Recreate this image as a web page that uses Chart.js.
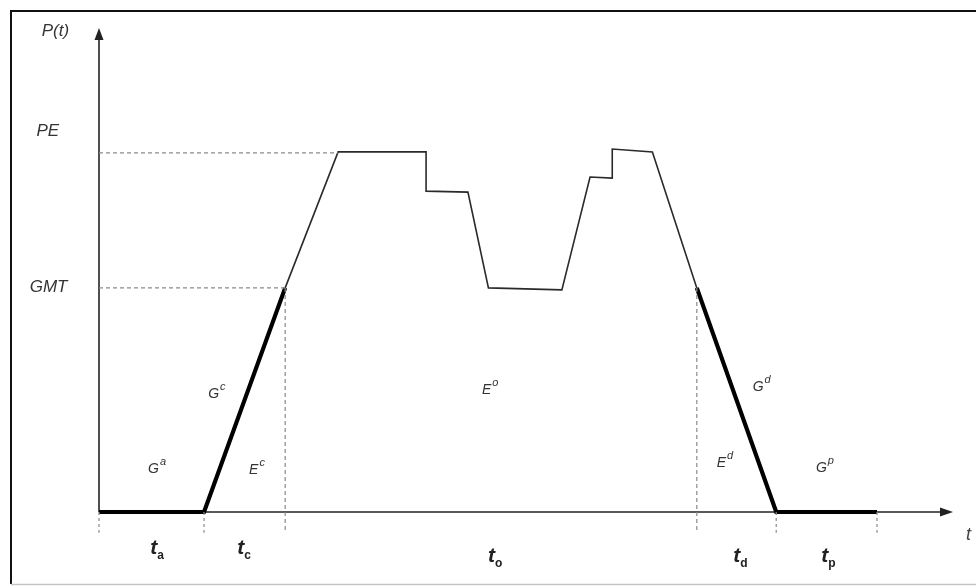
<!DOCTYPE html>
<html>
<head>
<meta charset="utf-8">
<script src="https://cdn.jsdelivr.net/npm/chart.js@4/dist/chart.umd.min.js"></script>
<style>
  html, body { margin: 0; padding: 0; background: #fff; }
  #wrap { width: 976px; height: 587px; position: relative; }
</style>
</head>
<body>
<div id="wrap"><canvas id="c" width="976" height="587"></canvas></div>
<script>
// ---- data (time units 0..100, power units 0..100) ----
const profileTime  = [21.8, 28.0, 38.3, 38.3, 43.2, 45.6, 54.2, 57.5, 60.1, 60.1, 64.8, 70.0];
const profilePower = [46.3, 74.4, 74.4, 66.3, 66.1, 46.3, 45.9, 69.2, 69.0, 75.0, 74.4, 46.3];
const startTime  = [0, 12.3, 21.8];
const startPower = [0, 0, 46.3];
const endTime  = [70.0, 79.3, 91.1];
const endPower = [46.3, 0, 0];
const PE = 74.2;
const GMT = 46.3;
const PE_TIME = 28.0;
const GMT_TIME_UP = 21.8;
const GMT_TIME_DOWN = 70.0;
const phaseBounds = [0, 12.3, 79.3, 91.1];
const tickDepth = -4.3;
const phaseNames = ['a', 'c', 'o', 'd', 'p'];
const phaseLabelTime = [6.8, 17.0, 46.4, 75.1, 85.4];
const phaseLabelPower = [-7.9, -7.9, -9.6, -9.6, -9.6];
const regionBase = ['G', 'G', 'E', 'E', 'G', 'E', 'G'];
const regionSup  = ['a', 'c', 'c', 'o', 'd', 'd', 'p'];
const regionTime  = [6.8, 13.8, 18.5, 45.8, 77.6, 73.3, 85.0];
const regionPower = [9.3, 24.8, 9.1, 25.6, 26.2, 10.5, 9.5];
const yLabels = ['P(t)', 'PE', 'GMT'];
const yLabelPower = [99.3, 78.7, 46.5];
const yLabelTime = [-5.1, -6.0, -5.9];

const pts = (xs, ys) => xs.map((x, i) => ({ x: x, y: ys[i] }));

const datasets = [];
// dashed reference lines
datasets.push({ data: pts([0, PE_TIME], [PE, PE]), borderColor: '#8a8a8a', borderWidth: 1.2, borderDash: [4, 3] });
datasets.push({ data: pts([0, GMT_TIME_UP], [GMT, GMT]), borderColor: '#8a8a8a', borderWidth: 1.2, borderDash: [4, 3] });
datasets.push({ data: pts([GMT_TIME_UP, GMT_TIME_UP], [GMT, tickDepth]), borderColor: '#8a8a8a', borderWidth: 1.2, borderDash: [4, 3] });
datasets.push({ data: pts([GMT_TIME_DOWN, GMT_TIME_DOWN], [GMT, tickDepth]), borderColor: '#8a8a8a', borderWidth: 1.2, borderDash: [4, 3] });
phaseBounds.forEach(t => {
  datasets.push({ data: pts([t, t], [0, tickDepth]), borderColor: '#8a8a8a', borderWidth: 1.2, borderDash: [3, 3] });
});
// profile
datasets.push({ data: pts(profileTime, profilePower), borderColor: '#2a2a2a', borderWidth: 1.6 });
datasets.push({ data: pts(startTime, startPower), borderColor: '#000', borderWidth: 4.2 });
datasets.push({ data: pts(endTime, endPower), borderColor: '#000', borderWidth: 4.2 });

datasets.forEach(d => {
  d.showLine = true; d.pointRadius = 0; d.fill = false; d.clip = false;
  d.tension = 0; d.borderCapStyle = 'butt'; d.borderJoinStyle = 'miter';
});

const framePlugin = {
  id: 'frame',
  beforeDraw(chart) {
    const ctx = chart.ctx;
    ctx.save();
    ctx.fillStyle = '#fff';
    ctx.fillRect(0, 0, chart.width, chart.height);
    ctx.strokeStyle = '#111';
    ctx.lineWidth = 2;
    ctx.beginPath();
    ctx.moveTo(11, 584); ctx.lineTo(11, 11); ctx.lineTo(976, 11);
    ctx.stroke();
    ctx.strokeStyle = '#c4c4c4';
    ctx.lineWidth = 1.5;
    ctx.beginPath(); ctx.moveTo(11, 584.5); ctx.lineTo(976, 584.5); ctx.stroke();

    // axes with arrows
    const xs = chart.scales.x, ys = chart.scales.y;
    const x0 = xs.getPixelForValue(0), y0 = ys.getPixelForValue(0);
    const xEnd = xs.getPixelForValue(xs.max), yEnd = ys.getPixelForValue(ys.max);
    ctx.strokeStyle = '#222';
    ctx.fillStyle = '#222';
    ctx.lineWidth = 1.6;
    ctx.beginPath(); ctx.moveTo(x0, y0); ctx.lineTo(x0, yEnd + 8); ctx.stroke();
    ctx.beginPath(); ctx.moveTo(x0, y0); ctx.lineTo(xEnd - 8, y0); ctx.stroke();
    ctx.beginPath();
    ctx.moveTo(x0, yEnd); ctx.lineTo(x0 - 4.5, yEnd + 12); ctx.lineTo(x0 + 4.5, yEnd + 12); ctx.closePath(); ctx.fill();
    ctx.beginPath();
    ctx.moveTo(xEnd, y0); ctx.lineTo(xEnd - 13, y0 - 4.5); ctx.lineTo(xEnd - 13, y0 + 4.5); ctx.closePath(); ctx.fill();
    ctx.restore();
  },
  afterDraw(chart) {
    const ctx = chart.ctx;
    const xs = chart.scales.x, ys = chart.scales.y;
    ctx.save();
    ctx.textBaseline = 'middle';
    // y labels
    ctx.fillStyle = '#333';
    ctx.font = 'italic 17px "Liberation Sans", Arial, sans-serif';
    ctx.textAlign = 'center';
    yLabels.forEach((s, i) => {
      ctx.fillText(s, xs.getPixelForValue(yLabelTime[i]), ys.getPixelForValue(yLabelPower[i]));
    });
    // region labels with superscripts
    regionBase.forEach((b, i) => {
      const px = xs.getPixelForValue(regionTime[i]);
      const py = ys.getPixelForValue(regionPower[i]);
      ctx.font = 'italic 14px "Liberation Sans", Arial, sans-serif';
      ctx.fillStyle = '#333';
      const w = ctx.measureText(b).width;
      ctx.font = 'italic 11px "Liberation Sans", Arial, sans-serif';
      const ws = ctx.measureText(regionSup[i]).width;
      const left = px - (w + ws + 1) / 2;
      ctx.textAlign = 'left';
      ctx.font = 'italic 14px "Liberation Sans", Arial, sans-serif';
      ctx.fillText(b, left, py + 2);
      ctx.font = 'italic 11px "Liberation Sans", Arial, sans-serif';
      ctx.fillText(regionSup[i], left + w + 1, py - 5);
    });
    // phase labels with subscripts
    phaseNames.forEach((n, i) => {
      const px = xs.getPixelForValue(phaseLabelTime[i]);
      const py = ys.getPixelForValue(phaseLabelPower[i]);
      ctx.fillStyle = '#222';
      ctx.font = 'bold italic 21px "Liberation Sans", Arial, sans-serif';
      const w = ctx.measureText('t').width;
      ctx.font = 'bold 12px "Liberation Sans", Arial, sans-serif';
      const ws = ctx.measureText(n).width;
      const left = px - (w + ws) / 2;
      ctx.textAlign = 'left';
      ctx.font = 'bold italic 21px "Liberation Sans", Arial, sans-serif';
      ctx.fillText('t', left, py - 2);
      ctx.font = 'bold 12px "Liberation Sans", Arial, sans-serif';
      ctx.fillText(n, left + w, py + 5);
    });
    // x axis label at far right
    ctx.fillStyle = '#444';
    ctx.font = 'italic 18px "Liberation Sans", Arial, sans-serif';
    ctx.textAlign = 'left';
    ctx.fillText('t', 966, 535);
    ctx.restore();
  }
};

new Chart(document.getElementById('c'), {
  type: 'scatter',
  data: { datasets: datasets },
  options: {
    responsive: false,
    animation: false,
    devicePixelRatio: 1,
    layout: { padding: { left: 99, right: 23, top: 28, bottom: 75 } },
    plugins: { legend: { display: false }, tooltip: { enabled: false } },
    scales: {
      x: { type: 'linear', min: 0, max: 100, display: false },
      y: { type: 'linear', min: 0, max: 100, display: false }
    }
  },
  plugins: [framePlugin]
});
</script>
</body>
</html>
